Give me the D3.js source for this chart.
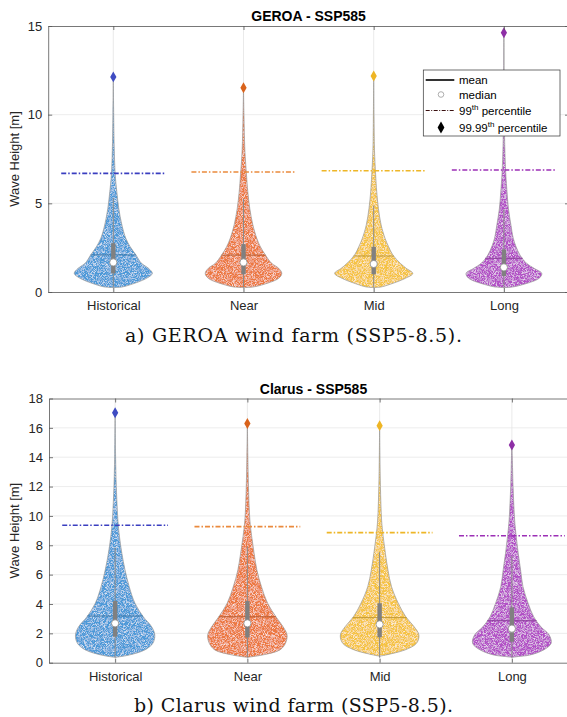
<!DOCTYPE html>
<html lang="en">
<head>
<meta charset="UTF-8"/>
<title>Wave height violins</title>
<script src="https://d3js.org/d3.v7.min.js"></script>
<style>
    body { margin: 0; background: #fff; }
    svg text { font-family: "Liberation Sans", Arial, sans-serif; fill: #262626; }
    .axis path, .axis line { stroke: #555; stroke-width: 0.8; }
    .axis text { font-size: 13px; fill: #262626; }
    .caption { font-family: "DejaVu Serif", serif !important; font-size: 19px; fill: #111 !important; }
</style>
</head>
<body>
<div id="chart"></div>
<script>
// categories + colours
var categories = ["Historical", "Near", "Mid", "Long"];
var fillColors = ["#4b99d8", "#ec7840", "#f5c343", "#b24fc6"];
var pctColors = ["#3a3ec0", "#ea8a3d", "#eeb627", "#9c2fb6"];
var dotColors = ["#3f4cc2", "#d9631c", "#eeb525", "#8e2fa6"];

// GEROA - SSP585
var geroaMean   = [2.09, 2.08, 2.03, 1.90];
var geroaMedian = [1.67, 1.67, 1.58, 1.39];
var geroaQ1     = [1.05, 1.00, 1.00, 0.90];
var geroaQ3     = [2.75, 2.70, 2.55, 2.40];
var geroaP99    = [6.69, 6.77, 6.84, 6.88];
var geroaP9999  = [12.13, 11.52, 12.18, 14.62];
var geroaLevels = [0.25, 0.28, 0.39, 0.77, 1.05, 1.34, 1.62, 2.09, 2.56, 3.03, 3.78, 4.72, 5.66, 6.6, 8, 10];
var geroaDensity = [
    [0, 0.22, 0.41, 0.85, 1.00, 0.90, 0.72, 0.58, 0.43, 0.32, 0.22, 0.14, 0.09, 0.05, 0.025, 0.01],
    [0, 0.24, 0.46, 0.90, 0.98, 0.90, 0.72, 0.56, 0.43, 0.34, 0.24, 0.16, 0.11, 0.077, 0.035, 0.012],
    [0, 0.18, 0.36, 0.81, 1.00, 0.83, 0.68, 0.49, 0.38, 0.29, 0.19, 0.12, 0.077, 0.05, 0.02, 0.008],
    [0, 0.22, 0.44, 0.90, 0.97, 0.77, 0.58, 0.41, 0.31, 0.24, 0.18, 0.115, 0.08, 0.05, 0.025, 0.01]
];

// Clarus - SSP585
var clarusMean   = [3.18, 3.13, 3.07, 2.86];
var clarusMedian = [2.68, 2.68, 2.61, 2.32];
var clarusQ1     = [1.77, 1.72, 1.73, 1.43];
var clarusQ3     = [4.20, 4.20, 4.05, 3.77];
var clarusP99    = [9.36, 9.27, 8.86, 8.65];
var clarusP9999  = [17.03, 16.30, 16.15, 14.83];
var clarusLevels = [0.36, 0.42, 0.52, 0.87, 1.32, 1.89, 2.45, 3.13, 4.05, 5.18, 6.31, 7.45, 8.58, 9.72, 12, 14];
var clarusDensity = [
    [0, 0.15, 0.35, 0.75, 0.95, 1.00, 0.92, 0.71, 0.50, 0.355, 0.25, 0.17, 0.11, 0.07, 0.03, 0.012],
    [0, 0.15, 0.375, 0.82, 0.96, 1.00, 0.90, 0.72, 0.51, 0.355, 0.24, 0.17, 0.11, 0.063, 0.028, 0.012],
    [0, 0, 0.15, 0.64, 0.93, 0.99, 0.87, 0.66, 0.47, 0.30, 0.21, 0.145, 0.09, 0.05, 0.02, 0.008],
    [0, 0.16, 0.45, 0.80, 0.99, 0.94, 0.73, 0.55, 0.41, 0.28, 0.22, 0.16, 0.11, 0.07, 0.03, 0.01]
];

var geroaTicks = [0, 5, 10, 15];
var clarusTicks = [0, 2, 4, 6, 8, 10, 12, 14, 16, 18];

var w = 567, h = 717;
var svg = d3.select("#chart").append("svg").attr("width", w).attr("height", h);

// fine speckle texture for the violin fills
var defs = svg.append("defs");
var f = defs.append("filter").attr("id", "speckle").attr("x", "-10%").attr("y", "-10%").attr("width", "120%").attr("height", "120%");
f.append("feTurbulence").attr("type", "fractalNoise").attr("baseFrequency", 1.9).attr("numOctaves", 1).attr("seed", 3).attr("result", "n");
f.append("feColorMatrix").attr("in", "n").attr("type", "matrix")
    .attr("values", "0 0 0 0 1  0 0 0 0 1  0 0 0 0 1  2.0 0 0 0 -0.85").attr("result", "wn");
f.append("feComposite").attr("in", "wn").attr("in2", "SourceGraphic").attr("operator", "in").attr("result", "ws");
var fm = f.append("feMerge");
fm.append("feMergeNode").attr("in", "SourceGraphic");
fm.append("feMergeNode").attr("in", "ws");

function panel(cfg) {
    var x = d3.scaleLinear().domain([0.5, 4.5]).range([cfg.left, cfg.right]);
    var y = d3.scaleLinear().domain([0, cfg.ymax]).range([cfg.bottom, cfg.top]);
    var hw = d3.scaleLinear().domain([0, 1]).range([0, x(1.3) - x(1)]);
    var g = svg.append("g");

    // grid
    g.selectAll(".hg").data(cfg.ticks.filter(function(t){ return t > 0 && t < cfg.ymax; }))
        .join("line")
        .attr("x1", cfg.left).attr("x2", cfg.right)
        .attr("y1", function(d){ return y(d); }).attr("y2", function(d){ return y(d); })
        .attr("stroke", "#e9e9e9").attr("stroke-width", 0.8);
    g.selectAll(".vg").data(categories).join("line")
        .attr("x1", function(d, i){ return x(i + 1); }).attr("x2", function(d, i){ return x(i + 1); })
        .attr("y1", cfg.top).attr("y2", cfg.bottom)
        .attr("stroke", "#e4e4e4").attr("stroke-width", 0.8);

    categories.forEach(function(c, i) {
        var cx = x(i + 1);
        var pts = cfg.levels.map(function(l, k){ return [l, cfg.density[i][k]]; });
        pts.push([cfg.p9999[i], 0]);
        var area = d3.area()
            .curve(d3.curveCatmullRom.alpha(0.5))
            .y(function(d){ return y(d[0]); })
            .x0(function(d){ return cx - hw(d[1]); })
            .x1(function(d){ return cx + hw(d[1]); });
        g.append("path").datum(pts)
            .attr("d", area)
            .attr("fill", fillColors[i])
            .attr("filter", "url(#speckle)");
        g.append("path").datum(pts)
            .attr("d", area)
            .attr("fill", "none")
            .attr("stroke", "#9a9a9a").attr("stroke-width", 0.7);

        // whisker line
        var upper = Math.min(cfg.p9999[i], cfg.q3[i] + 1.5 * (cfg.q3[i] - cfg.q1[i]));
        g.append("line")
            .attr("x1", cx).attr("x2", cx)
            .attr("y1", y(cfg.levels[0])).attr("y2", y(upper))
            .attr("stroke", "#8a8a8a").attr("stroke-width", 1);

        // mean line across violin width
        var dm = d3.scaleLinear().domain(cfg.levels).range(cfg.density[i])(cfg.mean[i]);
        g.append("line")
            .attr("x1", cx - hw(dm)).attr("x2", cx + hw(dm))
            .attr("y1", y(cfg.mean[i])).attr("y2", y(cfg.mean[i]))
            .attr("stroke", d3.color(fillColors[i]).darker(0.7)).attr("stroke-width", 1);

        // IQR box
        g.append("rect")
            .attr("x", cx - 2.2).attr("width", 4.4)
            .attr("y", y(cfg.q3[i])).attr("height", y(cfg.q1[i]) - y(cfg.q3[i]))
            .attr("fill", "#808080");
        // median
        g.append("circle")
            .attr("cx", cx).attr("cy", y(cfg.median[i])).attr("r", 3.6)
            .attr("fill", "#fff").attr("stroke", "#8a8a8a").attr("stroke-width", 0.8);

        // 99th percentile
        g.append("line")
            .attr("x1", x(i + 0.6)).attr("x2", x(i + 1.4))
            .attr("y1", y(cfg.p99[i])).attr("y2", y(cfg.p99[i]))
            .attr("stroke", pctColors[i]).attr("stroke-width", 1.6)
            .attr("stroke-dasharray", "5,2,1.5,2");
        // 99.99th percentile
        g.append("path")
            .attr("d", d3.symbol(d3.symbolDiamond, 34)())
            .attr("transform", "translate(" + cx + "," + y(cfg.p9999[i]) + ")")
            .attr("fill", dotColors[i]);
    });

    // axes
    g.append("g").attr("class", "axis")
        .attr("transform", "translate(" + cfg.left + ",0)")
        .call(d3.axisLeft(y).tickValues(cfg.ticks).tickSize(-4).tickSizeOuter(0).tickPadding(6));
    g.append("g").attr("class", "axis")
        .attr("transform", "translate(" + cfg.right + ",0)")
        .call(d3.axisRight(y).tickValues(cfg.ticks).tickSize(-4).tickSizeOuter(0).tickFormat(""));
    g.append("g").attr("class", "axis")
        .attr("transform", "translate(0," + cfg.top + ")")
        .call(d3.axisTop(x).tickValues([1, 2, 3, 4]).tickSize(-4).tickSizeOuter(0).tickFormat(""));
    g.append("g").attr("class", "axis")
        .attr("transform", "translate(0," + cfg.bottom + ")")
        .call(d3.axisBottom(x).tickValues([1, 2, 3, 4]).tickSize(-4).tickSizeOuter(0).tickPadding(9)
            .tickFormat(function(d){ return categories[d - 1]; }));

    g.append("text")
        .attr("x", (cfg.left + cfg.right) / 2).attr("y", cfg.top - 5)
        .attr("text-anchor", "middle")
        .style("font-size", "14px").style("font-weight", "bold").style("fill", "#000")
        .text(cfg.title);
    g.append("text")
        .attr("transform", "translate(19," + (cfg.top + cfg.bottom) / 2 + ") rotate(-90)")
        .attr("text-anchor", "middle")
        .style("font-size", "13px")
        .text("Wave Height [m]");
    g.append("text").attr("class", "caption")
        .attr("x", 293.5).attr("y", cfg.capY)
        .attr("text-anchor", "middle")
        .attr("textLength", cfg.capW).attr("lengthAdjust", "spacing")
        .text(cfg.caption);
}

panel({
    left: 48.2, right: 569, top: 26, bottom: 292, ymax: 15, ticks: geroaTicks,
    levels: geroaLevels, density: geroaDensity, mean: geroaMean, median: geroaMedian,
    q1: geroaQ1, q3: geroaQ3, p99: geroaP99, p9999: geroaP9999,
    title: "GEROA - SSP585", caption: "a) GEROA wind farm (SSP5-8.5).", capY: 342, capW: 337
});
panel({
    left: 49, right: 578, top: 398.5, bottom: 662.7, ymax: 18, ticks: clarusTicks,
    levels: clarusLevels, density: clarusDensity, mean: clarusMean, median: clarusMedian,
    q1: clarusQ1, q3: clarusQ3, p99: clarusP99, p9999: clarusP9999,
    title: "Clarus - SSP585", caption: "b) Clarus wind farm (SSP5-8.5).", capY: 712, capW: 319
});

// legend (top panel)
var lg = svg.append("g").attr("transform", "translate(423.3,70)");
lg.append("rect").attr("width", 136.7).attr("height", 66)
    .attr("fill", "#fff").attr("stroke", "#333").attr("stroke-width", 0.7);
var legendY = [10, 24.5, 40.5, 57.5];
lg.append("line").attr("x1", 2.4).attr("x2", 31).attr("y1", legendY[0]).attr("y2", legendY[0])
    .attr("stroke", "#000").attr("stroke-width", 1.6);
lg.append("circle").attr("cx", 17.7).attr("cy", legendY[1]).attr("r", 2.8)
    .attr("fill", "none").attr("stroke", "#999").attr("stroke-width", 0.8);
lg.append("line").attr("x1", 2.4).attr("x2", 31).attr("y1", legendY[2]).attr("y2", legendY[2])
    .attr("stroke", "#3a1010").attr("stroke-width", 1.1).attr("stroke-dasharray", "4,1.5,1,1.5");
lg.append("path").attr("d", d3.symbol(d3.symbolDiamond, 40)())
    .attr("transform", "translate(17.7," + legendY[3] + ")").attr("fill", "#000");
var labels = [["mean", ""], ["median", ""], ["99", "th", " percentile"], ["99.99", "th", " percentile"]];
labels.forEach(function(l, i) {
    var t = lg.append("text").attr("x", 35.7).attr("y", legendY[i] + 4)
        .style("font-size", "11.5px").style("fill", "#000");
    t.append("tspan").text(l[0]);
    if (l.length > 2) {
        t.append("tspan").attr("dy", -5).style("font-size", "8px").text(l[1]);
        t.append("tspan").attr("dy", 5).text(l[2]);
    }
});
</script>
</body>
</html>
